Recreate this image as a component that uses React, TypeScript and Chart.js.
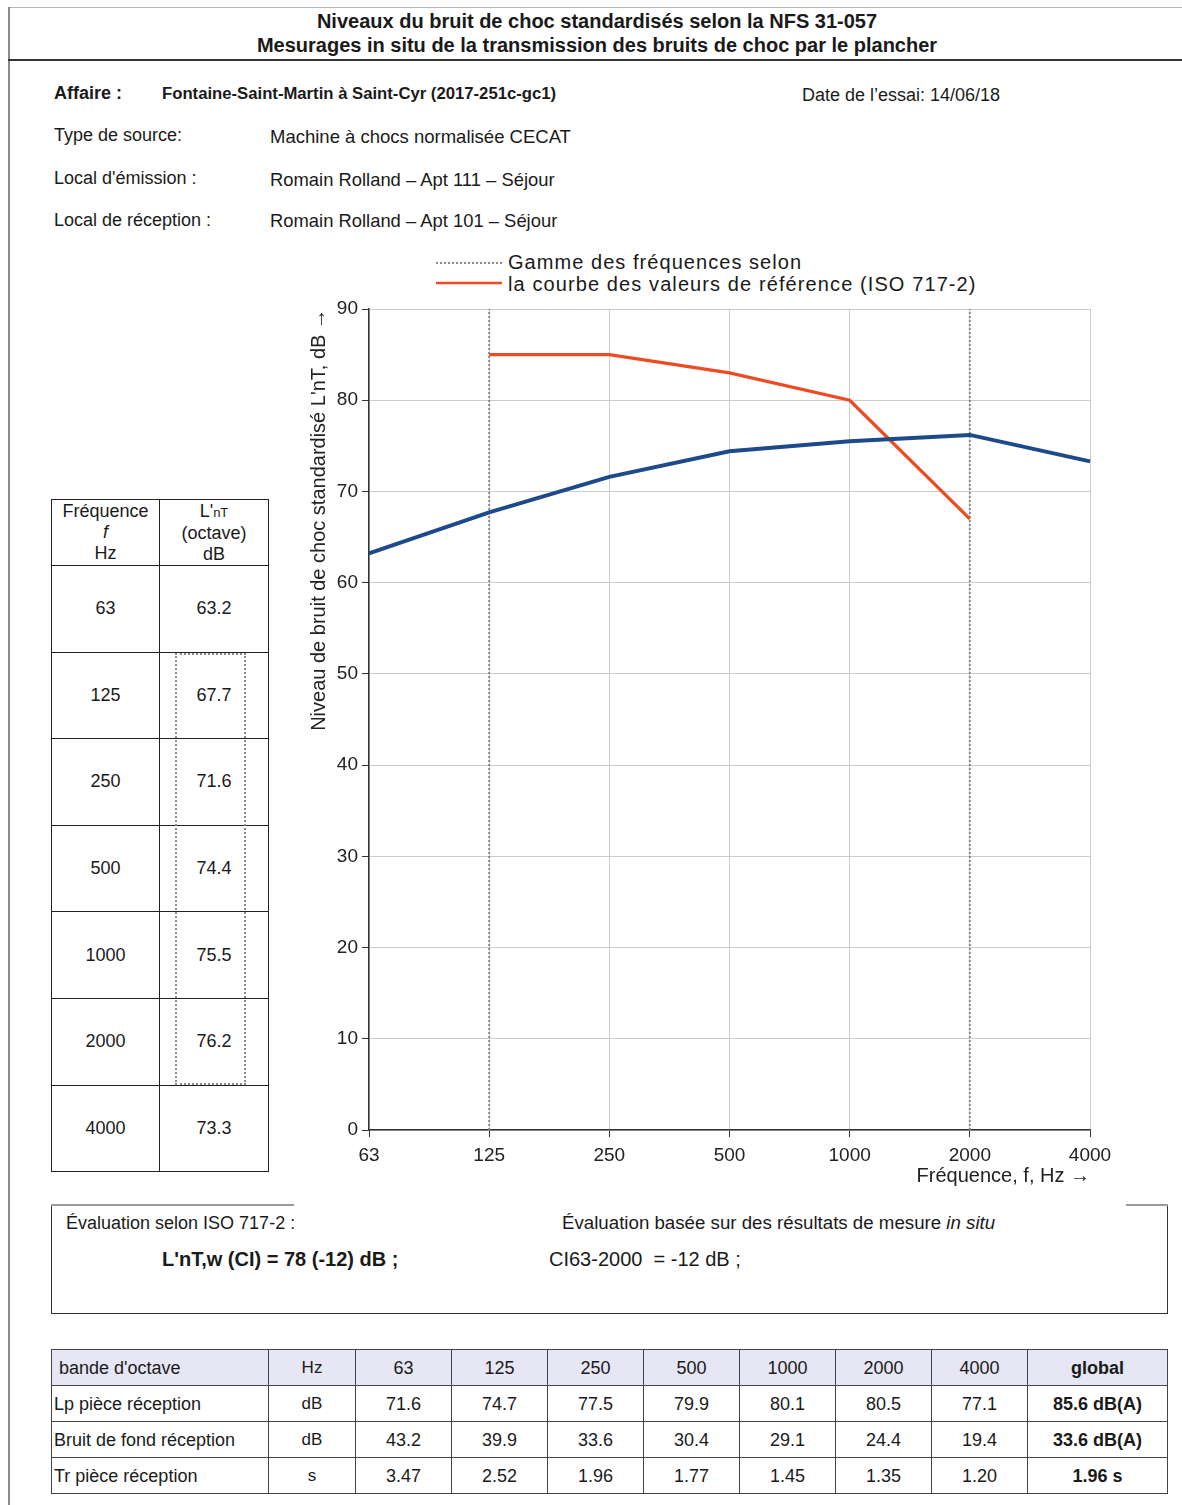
import React, { useEffect, useRef } from 'react';
import { Chart, registerables } from 'chart.js';

Chart.register(...registerables);

const FONT = '"Liberation Sans", Arial, Helvetica, sans-serif';

// Octave bands (Hz)
const frequencies = ['63', '125', '250', '500', '1000', '2000', '4000'];
// Standardised impact sound level L'nT per octave (dB)
const lntOctave = [63.2, 67.7, 71.6, 74.4, 75.5, 76.2, 73.3];
// Shifted ISO 717-2 reference curve (octave), defined from 125 to 2000 Hz
const referenceCurve = [null, 85, 85, 83, 80, 67, null];
// Frequency range used by the reference curve
const evaluationRange = ['125', '2000'];
// Level axis
const levelMin = 0;
const levelMax = 90;
const levelStep = 10;

// Measurement table
const lpReception = [71.6, 74.7, 77.5, 79.9, 80.1, 80.5, 77.1];
const bruitFondReception = [43.2, 39.9, 33.6, 30.4, 29.1, 24.4, 19.4];
const trReception = [3.47, 2.52, 1.96, 1.77, 1.45, 1.35, 1.2];
const globalLp = '85.6 dB(A)';
const globalBruitFond = '33.6 dB(A)';
const globalTr = '1.96 s';

const BLUE = '#1d4a88';
const RED = '#ee4b24';
const DOT = '#8a8a8a';

type TxtProps = {
  x: number;
  cy: number;
  size: number;
  bold?: boolean;
  children: React.ReactNode;
  style?: React.CSSProperties;
};

function Txt({ x, cy, size, bold, children, style }: TxtProps) {
  return (
    <div
      style={{
        position: 'absolute',
        left: x,
        top: cy - size / 2,
        fontSize: size,
        lineHeight: 1,
        fontWeight: bold ? 700 : 400,
        whiteSpace: 'pre',
        color: '#1a1a1a',
        ...style,
      }}
    >
      {children}
    </div>
  );
}

type CellProps = {
  x: number;
  y: number;
  w: number;
  h: number;
  color: string;
  children?: React.ReactNode;
  style?: React.CSSProperties;
};

function Cell({ x, y, w, h, color, children, style }: CellProps) {
  return (
    <div
      style={{
        position: 'absolute',
        left: x,
        top: y,
        width: w,
        height: h,
        boxSizing: 'border-box',
        borderLeft: `1px solid ${color}`,
        borderTop: `1px solid ${color}`,
        display: 'flex',
        alignItems: 'center',
        justifyContent: 'center',
        textAlign: 'center',
        color: '#1a1a1a',
        ...style,
      }}
    >
      {children}
    </div>
  );
}

function ImpactChart() {
  const ref = useRef<HTMLCanvasElement>(null);

  useEffect(() => {
    if (!ref.current) return;
    const rangeLines = evaluationRange.map((f) => ({
      label: 'range ' + f,
      data: [
        { x: f, y: levelMin },
        { x: f, y: levelMax },
      ],
      borderColor: DOT,
      borderWidth: 2,
      borderDash: [2, 2],
      pointRadius: 0,
      order: 3,
    }));

    const chart = new Chart(ref.current, {
      type: 'line',
      data: {
        labels: frequencies,
        datasets: [
          {
            label: "L'nT",
            data: lntOctave,
            borderColor: BLUE,
            borderWidth: 4,
            pointRadius: 0,
            tension: 0,
            order: 1,
          },
          {
            label: 'Référence ISO 717-2',
            data: referenceCurve,
            borderColor: RED,
            borderWidth: 3.3,
            pointRadius: 0,
            tension: 0,
            order: 2,
          },
          ...rangeLines,
        ] as any,
      },
      options: {
        animation: false,
        responsive: false,
        devicePixelRatio: 1,
        layout: { padding: { top: 19, right: 30, left: 0, bottom: 0 } },
        plugins: {
          legend: { display: false },
          tooltip: { enabled: false },
        },
        scales: {
          x: {
            type: 'category',
            offset: false,
            grid: {
              color: '#cccccc',
              lineWidth: 1,
              tickColor: '#333333',
              tickLength: 7,
            },
            border: { color: '#333333', width: 1.5 },
            ticks: {
              color: '#222222',
              font: { family: FONT, size: 19 },
              padding: 7,
              maxRotation: 0,
              autoSkip: false,
            },
            title: {
              display: true,
              text: 'Fréquence, f, Hz →',
              align: 'end',
              color: '#222222',
              font: { family: FONT, size: 20 },
              padding: { top: 0, bottom: 12 },
            },
            afterFit: (scale: any) => {
              scale.height = 70;
            },
          },
          y: {
            min: levelMin,
            max: levelMax,
            grid: {
              color: '#cccccc',
              lineWidth: 1,
              tickColor: '#333333',
              tickLength: 7,
            },
            border: { color: '#333333', width: 1.5 },
            ticks: {
              stepSize: levelStep,
              color: '#222222',
              font: { family: FONT, size: 19 },
              padding: 4,
            },
            title: {
              display: true,
              text: "Niveau de bruit de choc standardisé L'nT, dB →",
              align: 'end',
              color: '#222222',
              font: { family: FONT, size: 20 },
              padding: { top: 7, bottom: 0 },
            },
            afterFit: (scale: any) => {
              scale.width = 69;
            },
          },
        },
      } as any,
    });
    return () => chart.destroy();
  }, []);

  return (
    <canvas
      ref={ref}
      width={820}
      height={910}
      style={{ position: 'absolute', left: 300, top: 290, width: 820, height: 910 }}
    />
  );
}

function LeftTable() {
  const x0 = 51;
  const colW = [108, 109];
  const headerTop = 499;
  const headerH = 66;
  const rowH = 86.6;
  const line = '#222222';
  const total = headerH + rowH * frequencies.length;
  return (
    <>
      <Cell x={x0} y={headerTop} w={colW[0]} h={headerH} color={line}>
        <div style={{ fontSize: 18, lineHeight: '21px' }}>
          Fréquence
          <br />
          <i>f</i>
          <br />
          Hz
        </div>
      </Cell>
      <Cell x={x0 + colW[0]} y={headerTop} w={colW[1]} h={headerH} color={line}>
        <div style={{ fontSize: 18, lineHeight: '21px' }}>
          L'<span style={{ fontSize: 13 }}>nT</span>
          <br />
          (octave)
          <br />
          dB
        </div>
      </Cell>
      {frequencies.map((f, i) => {
        const y = headerTop + headerH + rowH * i;
        return (
          <React.Fragment key={f}>
            <Cell x={x0} y={y} w={colW[0]} h={rowH} color={line} style={{ fontSize: 18 }}>
              {f}
            </Cell>
            <Cell x={x0 + colW[0]} y={y} w={colW[1]} h={rowH} color={line} style={{ fontSize: 18 }}>
              {lntOctave[i].toFixed(1)}
            </Cell>
          </React.Fragment>
        );
      })}
      <div
        style={{
          position: 'absolute',
          left: x0,
          top: headerTop,
          width: colW[0] + colW[1] + 1,
          height: total + 1,
          boxSizing: 'border-box',
          borderRight: `1px solid ${line}`,
          borderBottom: `1px solid ${line}`,
        }}
      />
      {/* evaluation range frame (125 – 2000 Hz) */}
      <div
        style={{
          position: 'absolute',
          left: 175,
          top: headerTop + headerH + rowH + 1,
          width: 71,
          height: rowH * 5 - 1,
          boxSizing: 'border-box',
          border: `2px dotted ${DOT}`,
        }}
      />
    </>
  );
}

function EvaluationBox() {
  return (
    <>
      <div
        style={{
          position: 'absolute',
          left: 51,
          top: 1205,
          width: 1117,
          height: 109,
          boxSizing: 'border-box',
          borderLeft: '1px solid #333',
          borderRight: '1px solid #333',
          borderBottom: '1px solid #333',
        }}
      />
      <div style={{ position: 'absolute', left: 51, top: 1204, width: 243, height: 2, background: '#9a9a9a' }} />
      <div style={{ position: 'absolute', left: 1126, top: 1204, width: 42, height: 2, background: '#9a9a9a' }} />
      <Txt x={66} cy={1223} size={18}>
        Évaluation selon ISO 717-2 :
      </Txt>
      <Txt x={562} cy={1223} size={18.7}>
        Évaluation basée sur des résultats de mesure <i>in situ</i>
      </Txt>
      <Txt x={162} cy={1259} size={20} bold>
        L'nT,w (CI) = 78 (-12) dB ;
      </Txt>
      <Txt x={549} cy={1259} size={20}>
        {'CI63-2000  = -12 dB ;'}
      </Txt>
    </>
  );
}

function BottomTable() {
  const x0 = 51;
  const y0 = 1349;
  const rowH = 36;
  const colW = [217, 87, 96, 96, 96, 96, 96, 96, 96, 140];
  const line = '#444444';
  const rows: { cells: string[]; header?: boolean }[] = [
    { cells: ["bande d'octave", 'Hz', ...frequencies, 'global'], header: true },
    { cells: ['Lp pièce réception', 'dB', ...lpReception.map((v) => v.toFixed(1)), globalLp] },
    { cells: ['Bruit de fond réception', 'dB', ...bruitFondReception.map((v) => v.toFixed(1)), globalBruitFond] },
    { cells: ['Tr pièce réception', 's', ...trReception.map((v) => v.toFixed(2)), globalTr] },
  ];
  const xs: number[] = [];
  colW.reduce((acc, w) => {
    xs.push(acc);
    return acc + w;
  }, x0);
  const totalW = colW.reduce((a, b) => a + b, 0);
  return (
    <>
      {rows.map((r, ri) => (
        <React.Fragment key={ri}>
          {r.cells.map((c, ci) => (
            <Cell
              key={ci}
              x={xs[ci]}
              y={y0 + rowH * ri}
              w={colW[ci]}
              h={rowH}
              color={line}
              style={{
                fontSize: ci === 1 ? 17 : 18,
                background: r.header ? '#e6e6f4' : 'transparent',
                justifyContent: ci === 0 ? 'flex-start' : 'center',
                paddingLeft: ci === 0 ? (r.header ? 7 : 2) : 0,
                paddingTop: 1,
                fontWeight: ci === colW.length - 1 ? 700 : 400,
              }}
            >
              {c}
            </Cell>
          ))}
        </React.Fragment>
      ))}
      <div
        style={{
          position: 'absolute',
          left: x0,
          top: y0,
          width: totalW + 1,
          height: rowH * rows.length + 1,
          boxSizing: 'border-box',
          borderRight: `1px solid ${line}`,
          borderBottom: `1px solid ${line}`,
        }}
      />
    </>
  );
}

export default function App() {
  return (
    <div
      style={{
        position: 'absolute',
        left: 0,
        top: 0,
        width: 1182,
        height: 1505,
        overflow: 'hidden',
        background: '#ffffff',
        fontFamily: FONT,
        color: '#1a1a1a',
      }}
    >
      {/* page frame */}
      <div style={{ position: 'absolute', left: 8, top: 7, width: 1174, height: 1, background: '#b5b5b5' }} />
      <div style={{ position: 'absolute', left: 8, top: 7, width: 2, height: 1498, background: '#8a8a8a' }} />
      <div style={{ position: 'absolute', left: 8, top: 59, width: 1174, height: 2, background: '#333333' }} />

      {/* title */}
      <div
        style={{
          position: 'absolute',
          left: 8,
          width: 1178,
          top: 9,
          fontSize: 20,
          lineHeight: '24px',
          fontWeight: 700,
          textAlign: 'center',
          color: '#1a1a1a',
        }}
      >
        Niveaux du bruit de choc standardisés selon la NFS 31-057
        <br />
        Mesurages in situ de la transmission des bruits de choc par le plancher
      </div>

      {/* test information */}
      <Txt x={54} cy={93} size={18} bold>
        Affaire :
      </Txt>
      <Txt x={162} cy={94} size={16.7} bold>
        Fontaine-Saint-Martin à Saint-Cyr (2017-251c-gc1)
      </Txt>
      <Txt x={802} cy={95} size={18}>
        Date de l’essai: 14/06/18
      </Txt>
      <Txt x={54} cy={135} size={18}>
        Type de source:
      </Txt>
      <Txt x={270} cy={137} size={18.5}>
        Machine à chocs normalisée CECAT
      </Txt>
      <Txt x={54} cy={178} size={18}>
        Local d'émission :
      </Txt>
      <Txt x={270} cy={180} size={18.4}>
        Romain Rolland – Apt 111 – Séjour
      </Txt>
      <Txt x={54} cy={220} size={18}>
        Local de réception :
      </Txt>
      <Txt x={270} cy={221} size={18.4}>
        Romain Rolland – Apt 101 – Séjour
      </Txt>

      {/* legend */}
      <svg
        width={70}
        height={36}
        style={{ position: 'absolute', left: 434, top: 255 }}
      >
        <line x1={2} y1={8} x2={68} y2={8} stroke={DOT} strokeWidth={2} strokeDasharray="2 2" />
        <line x1={2} y1={28} x2={68} y2={28} stroke={RED} strokeWidth={2.5} />
      </svg>
      <Txt x={508} cy={262} size={20} style={{ letterSpacing: 1.05 }}>
        Gamme des fréquences selon
      </Txt>
      <Txt x={508} cy={284} size={20} style={{ letterSpacing: 1.1 }}>
        la courbe des valeurs de référence (ISO 717-2)
      </Txt>

      <ImpactChart />
      <LeftTable />
      <EvaluationBox />
      <BottomTable />
    </div>
  );
}
